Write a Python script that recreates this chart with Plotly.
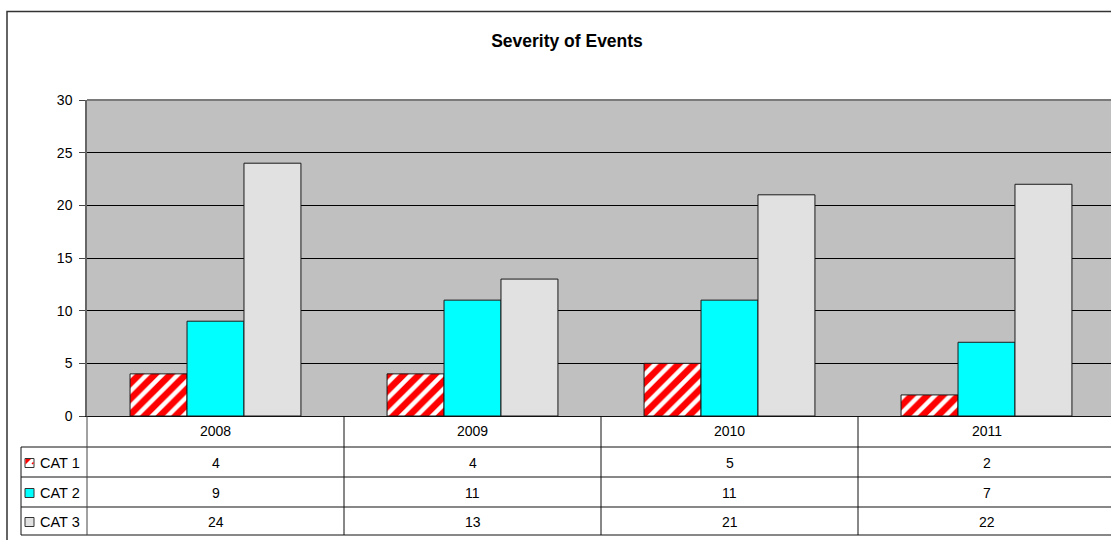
import plotly.graph_objects as go

# Event counts per severity category and year
years = ["2008", "2009", "2010", "2011"]
cat1 = [4, 4, 5, 2]
cat2 = [9, 11, 11, 7]
cat3 = [24, 13, 21, 22]
series_names = ["CAT 1", "CAT 2", "CAT 3"]
y_ticks = [0, 5, 10, 15, 20, 25, 30]

W, H = 1111, 540
ML, MT, MB = 87, 100, 124
PW = W - ML
PH = H - MT - MB
FONT = "Liberation Sans, Arial, sans-serif"


def px_x(px):
    return (px - ML) / PW


def px_y(py):
    return (H - MB - py) / PH


fig = go.Figure()
fig.add_trace(go.Bar(
    x=years, y=cat1, name=series_names[0],
    marker=dict(color="white", line=dict(color="#1a1a1a", width=1),
                pattern=dict(shape="/", fgcolor="#ff0000", bgcolor="white",
                             fgopacity=1, fillmode="replace",
                             size=11, solidity=0.6)),
))
fig.add_trace(go.Bar(
    x=years, y=cat2, name=series_names[1],
    marker=dict(color="#00ffff", line=dict(color="#1a1a1a", width=1)),
))
fig.add_trace(go.Bar(
    x=years, y=cat3, name=series_names[2],
    marker=dict(color="#e1e1e1", line=dict(color="#1a1a1a", width=1)),
))

n = len(years)
cat_px = 257
x_hi = -0.5 + PW / cat_px

shapes = []
annotations = []

# outer chart frame
shapes.append(dict(type="rect", xref="paper", yref="paper",
                   x0=px_x(7), x1=px_x(1130), y0=px_y(560), y1=px_y(11.5),
                   line=dict(color="#333333", width=1.5), layer="below"))
# top border of plot area
shapes.append(dict(type="line", xref="paper", yref="paper",
                   x0=0, x1=1, y0=1, y1=1,
                   line=dict(color="#7a7a7a", width=2)))

# data table under the axis
row_lines = [447, 477, 507, 535]
for py in row_lines:
    shapes.append(dict(type="line", xref="paper", yref="paper",
                       x0=px_x(21), x1=1.01, y0=px_y(py), y1=px_y(py),
                       line=dict(color="#111111", width=1)))
# column separators at category boundaries
for i in range(n):
    shapes.append(dict(type="line", xref="x", yref="paper",
                       x0=i + 0.5, x1=i + 0.5, y0=0, y1=px_y(535),
                       line=dict(color="#111111", width=1)))
# left edge of the value columns and of the label column
shapes.append(dict(type="line", xref="paper", yref="paper",
                   x0=0, x1=0, y0=0, y1=px_y(535),
                   line=dict(color="#444444", width=1)))
shapes.append(dict(type="line", xref="paper", yref="paper",
                   x0=px_x(21), x1=px_x(21), y0=px_y(447), y1=px_y(535),
                   line=dict(color="#111111", width=1)))

# year header row
for i, yr in enumerate(years):
    annotations.append(dict(x=i, y=px_y(431), xref="x", yref="paper",
                            text=yr, showarrow=False, yanchor="middle",
                            font=dict(size=14, color="black", family=FONT)))

rows = [cat1, cat2, cat3]
key_fill = ["white", "#00ffff", "#e1e1e1"]
row_mid = [(row_lines[k] + row_lines[k + 1]) / 2 for k in range(3)]
for r, (vals, name) in enumerate(zip(rows, series_names)):
    cy = row_mid[r] + 1
    for i, v in enumerate(vals):
        annotations.append(dict(x=i, y=px_y(cy), xref="x", yref="paper",
                                text=str(v), showarrow=False, yanchor="middle",
                                font=dict(size=14, color="black", family=FONT)))
    annotations.append(dict(x=px_x(38), y=px_y(cy), xref="paper", yref="paper",
                            text=name, showarrow=False, xanchor="left",
                            yanchor="middle",
                            font=dict(size=14.5, color="black", family=FONT)))
    # legend key square
    shapes.append(dict(type="rect", xref="paper", yref="paper",
                       x0=px_x(25), x1=px_x(34), y0=px_y(cy - 4.5), y1=px_y(cy + 4.5),
                       fillcolor=key_fill[r], line=dict(color="#333333", width=1)))
    if r == 0:
        shapes.append(dict(type="path", xref="paper", yref="paper",
                           path=("M {a},{b} L {c},{b} L {a},{d} Z".format(
                               a=px_x(25.5), b=px_y(cy - 4), c=px_x(31), d=px_y(cy + 1.5))),
                           fillcolor="#ff0000", line=dict(width=0)))
        shapes.append(dict(type="line", xref="paper", yref="paper",
                           x0=px_x(32), x1=px_x(33.5), y0=px_y(cy + 1), y1=px_y(cy - 0.5),
                           line=dict(color="#ff0000", width=1.5)))

fig.update_layout(
    width=W, height=H,
    margin=dict(l=ML, r=0, t=MT, b=MB, pad=0),
    paper_bgcolor="white",
    plot_bgcolor="#c0c0c0",
    barmode="group",
    bargap=0.335,
    bargroupgap=0,
    showlegend=False,
    font=dict(family=FONT, size=14, color="black"),
    title=dict(text="<b>Severity of Events</b>", x=567 / W, xref="container",
               xanchor="center", y=1 - 41 / H, yref="container", yanchor="middle",
               font=dict(size=17.5, color="black", family=FONT)),
    xaxis=dict(range=[-0.5, x_hi], showticklabels=False, ticks="",
               showgrid=False, zeroline=False, showline=True,
               linecolor="#111111", linewidth=1, fixedrange=True),
    yaxis=dict(range=[0, 30], tickvals=y_ticks, ticks="outside", ticklen=6,
               tickcolor="#444444", tickwidth=1, showline=True,
               linecolor="#666666", linewidth=1.5,
               showgrid=True, gridcolor="#000000", gridwidth=1,
               zeroline=False, tickfont=dict(size=14, color="black"),
               ticklabelstandoff=4),
    shapes=shapes,
    annotations=annotations,
)

fig.write_html("out.html")
